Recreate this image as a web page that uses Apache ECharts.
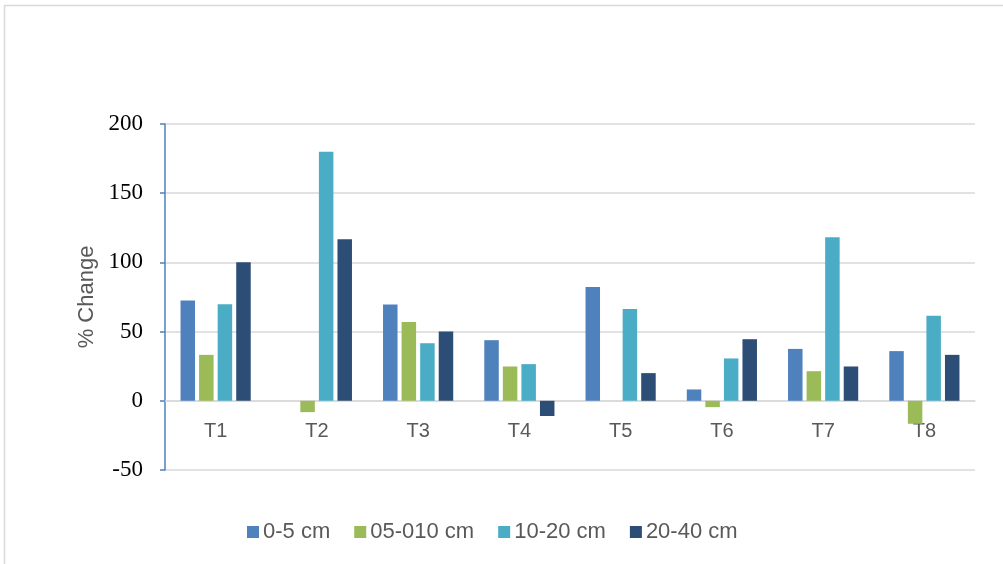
<!DOCTYPE html>
<html>
<head>
<meta charset="utf-8">
<style>
  html, body { margin: 0; padding: 0; background: #ffffff; }
  #chart { width: 1003px; height: 564px; }
</style>
<script src="https://cdn.jsdelivr.net/npm/echarts@6/dist/echarts.min.js"></script>
</head>
<body>
<div id="chart"></div>
<script>
// Treatments along the x axis
const categories = ['T1', 'T2', 'T3', 'T4', 'T5', 'T6', 'T7', 'T8'];

// % change by soil depth (null = no bar)
const depth0to5   = [72.4, null, 69.6, 43.8, 82.3, 8.2, 37.5, 35.9];
const depth5to10  = [33.2, -8.2, 57.0, 24.8, null, -4.6, 21.4, -16.6];
const depth10to20 = [69.8, 180.0, 41.6, 26.5, 66.4, 30.6, 118.2, 61.4];
const depth20to40 = [100.1, 116.7, 50.0, -11.0, 20.0, 44.5, 24.8, 33.2];

const seriesNames = ['0-5 cm', '05-010 cm', '10-20 cm', '20-40 cm'];
const yTicks = { min: -50, max: 200, interval: 50 };

const colors = ['#4F81BD', '#9BBB59', '#4BACC6', '#2C4D75'];
const values = [depth0to5, depth5to10, depth10to20, depth20to40];

const sans = 'Liberation Sans, Arial, sans-serif';
const serif = 'Liberation Serif, Times New Roman, serif';

const chart = echarts.init(document.getElementById('chart'), null, { renderer: 'canvas' });

chart.setOption({
  animation: false,
  backgroundColor: '#ffffff',
  color: colors,
  graphic: [{
    type: 'rect',
    shape: { x: 4.5, y: 5.5, width: 1010, height: 570 },
    style: { fill: 'none', stroke: '#d9d9d9', lineWidth: 1.5 },
    silent: true
  }],
  grid: { left: 165, right: 28, top: 124, bottom: 94, containLabel: false },
  legend: {
    data: seriesNames,
    top: 516,
    left: 242,
    itemWidth: 12,
    itemHeight: 12,
    itemGap: 24,
    icon: 'rect',
    textStyle: { fontFamily: sans, fontSize: 22, color: '#595959', padding: [0, 0, 0, -1] }
  },
  xAxis: {
    type: 'category',
    data: categories,
    axisLine: { onZero: true, lineStyle: { color: '#d9d9d9', width: 1.5 } },
    axisTick: { show: false },
    // labels sit just under the zero line
    axisLabel: { margin: -49, fontFamily: sans, fontSize: 20, color: '#595959' },
    splitLine: { show: false }
  },
  yAxis: {
    type: 'value',
    min: yTicks.min,
    max: yTicks.max,
    interval: yTicks.interval,
    name: '% Change',
    nameLocation: 'middle',
    nameGap: 67,
    nameTextStyle: { fontFamily: sans, fontSize: 22, color: '#595959' },
    axisLine: { show: true, lineStyle: { color: '#4F81BD', width: 1.5 } },
    axisTick: { show: true, inside: false, length: 5, lineStyle: { color: '#4F81BD', width: 1.5 } },
    axisLabel: { margin: 22, fontFamily: serif, fontSize: 23, color: '#000000' },
    splitLine: { show: true, lineStyle: { color: '#d9d9d9', width: 1.5 } }
  },
  series: seriesNames.map((name, i) => ({
    name: name,
    type: 'bar',
    data: values[i],
    barWidth: 14.5,
    barGap: '28%',
    itemStyle: { color: colors[i] }
  }))
});
</script>
</body>
</html>
